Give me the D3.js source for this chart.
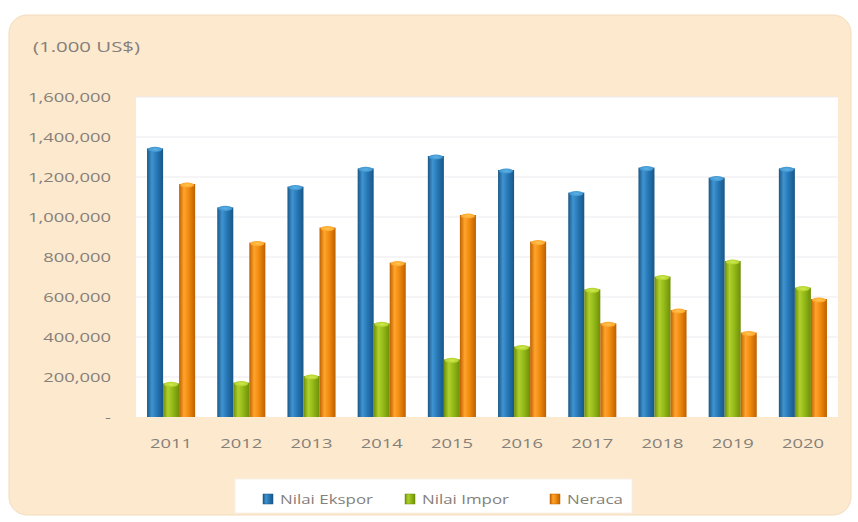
<!DOCTYPE html>
<html>
<head>
<meta charset="utf-8">
<script src="https://cdn.jsdelivr.net/npm/d3@7"></script>
<style>
  html, body { margin: 0; padding: 0; background: #ffffff; }
  svg { display: block; font-family: "Open Sans", "Noto Sans", sans-serif; }
</style>
</head>
<body>
<svg id="chart" width="858" height="522"></svg>
<script>
// Trade values per year, in thousands of US$
const years = ["2011", "2012", "2013", "2014", "2015", "2016", "2017", "2018", "2019", "2020"];
const ekspor = [1343000, 1048000, 1152000, 1243000, 1305000, 1235000, 1122000, 1247000, 1197000, 1243000];
const impor  = [168000, 172000, 205000, 468000, 288000, 352000, 638000, 702000, 780000, 647000];
const neraca = [1165000, 872000, 947000, 772000, 1010000, 877000, 468000, 535000, 422000, 590000];
const seriesNames = ["Nilai Ekspor", "Nilai Impor", "Neraca"];
const yTicks = [0, 200000, 400000, 600000, 800000, 1000000, 1200000, 1400000, 1600000];
const unitLabel = "(1.000 US$)";

const seriesValues = [ekspor, impor, neraca];
const palette = [
  { dark: "#1a5686", base: "#2677b6", light: "#3f94d0", cap: "#5db3e6" },
  { dark: "#6e8e08", base: "#93b918", light: "#b0d02c", cap: "#d0ea4e" },
  { dark: "#bd6000", base: "#f08a0e", light: "#ffa42c", cap: "#ffc64e" }
];
const textColor = "#84807a";
const stretch = 1.36;   // wide lettering of the labels

const svg = d3.select("#chart");
const defs = svg.append("defs");

palette.forEach((c, i) => {
  const g = defs.append("linearGradient").attr("id", "cyl" + i)
    .attr("x1", "0%").attr("x2", "100%").attr("y1", "0%").attr("y2", "0%");
  [[0, c.dark], [0.3, c.light], [0.6, c.base], [1, c.dark]].forEach(([o, col]) =>
    g.append("stop").attr("offset", o).attr("stop-color", col));
  const r = defs.append("radialGradient").attr("id", "cap" + i);
  r.append("stop").attr("offset", 0).attr("stop-color", c.cap).attr("stop-opacity", 1);
  r.append("stop").attr("offset", 1).attr("stop-color", c.light).attr("stop-opacity", 1);
});

// outer panel
svg.append("rect")
  .attr("x", 9).attr("y", 15).attr("width", 842).attr("height", 500)
  .attr("rx", 18).attr("ry", 18)
  .attr("fill", "#fde9ce").attr("stroke", "#f3dcbd").attr("stroke-width", 1);

const plot = { left: 136, right: 838, top: 97, bottom: 417 };

const x0 = d3.scaleBand().domain(years)
  .range([plot.left, plot.right]).paddingInner(0.315).paddingOuter(0.1575);
const x1 = d3.scaleBand().domain(seriesNames).range([0, x0.bandwidth()]);
const y = d3.scaleLinear().domain([0, 1600000]).range([plot.bottom, plot.top]);

// plot background
svg.append("rect")
  .attr("x", plot.left).attr("y", plot.top)
  .attr("width", plot.right - plot.left).attr("height", plot.bottom - plot.top)
  .attr("fill", "#ffffff");

// gridlines
svg.append("g").selectAll("line").data(yTicks.filter(d => d > 0)).join("line")
  .attr("x1", plot.left).attr("x2", plot.right)
  .attr("y1", d => y(d)).attr("y2", d => y(d))
  .attr("stroke", "#ece9ef").attr("stroke-width", 1);

// unit label
svg.append("g").attr("transform", "translate(33,52)")
  .append("text").attr("transform", `scale(${stretch},1)`)
  .attr("fill", textColor).attr("font-size", 15).text(unitLabel);

// y axis
const yAxis = svg.append("g").attr("transform", "translate(111,0)")
  .call(d3.axisLeft(y).tickValues(yTicks).tickSize(0).tickPadding(0)
    .tickFormat(d => d === 0 ? "-" : d3.format(",")(d)));
yAxis.select(".domain").remove();
yAxis.selectAll("text")
  .attr("transform", `scale(${stretch},1)`)
  .attr("fill", textColor).attr("font-size", 13.5)
  .attr("font-family", "'Open Sans', sans-serif");

// x axis
const xAxis = svg.append("g").attr("transform", `translate(0,${plot.bottom})`)
  .call(d3.axisBottom(x0).tickSize(0).tickPadding(21));
xAxis.select(".domain").remove();
xAxis.selectAll("text")
  .attr("transform", `scale(${stretch},1)`)
  .attr("fill", textColor).attr("font-size", 13.5)
  .attr("font-family", "'Open Sans', sans-serif");

// bars
const groups = svg.append("g").selectAll("g").data(years).join("g")
  .attr("transform", d => `translate(${x0(d)},0)`);

seriesNames.forEach((name, si) => {
  const vals = seriesValues[si];
  const bw = x1.bandwidth();
  groups.append("rect")
    .attr("x", x1(name))
    .attr("y", (d, i) => y(vals[i]))
    .attr("width", bw)
    .attr("height", (d, i) => y(0) - y(vals[i]))
    .attr("fill", `url(#cyl${si})`);
  groups.append("ellipse")
    .attr("cx", x1(name) + bw / 2)
    .attr("cy", (d, i) => y(vals[i]) + 1)
    .attr("rx", bw / 2 - 1)
    .attr("ry", 2.6)
    .attr("fill", `url(#cap${si})`);
});

// legend
const legend = svg.append("g");
legend.append("rect")
  .attr("x", 235).attr("y", 479).attr("width", 397).attr("height", 34)
  .attr("fill", "#ffffff").attr("stroke", "#f7efe6");
const legendX = [263, 405, 550];
seriesNames.forEach((name, si) => {
  const item = legend.append("g").attr("transform", `translate(${legendX[si]},494)`);
  item.append("rect").attr("width", 10).attr("height", 10)
    .attr("fill", `url(#cyl${si})`).attr("stroke", palette[si].dark).attr("stroke-width", 0.5);
  item.append("g").attr("transform", "translate(17,10)")
    .append("text").attr("transform", `scale(1.3,1)`)
    .attr("fill", textColor).attr("font-size", 13).text(name);
});
</script>
</body>
</html>
